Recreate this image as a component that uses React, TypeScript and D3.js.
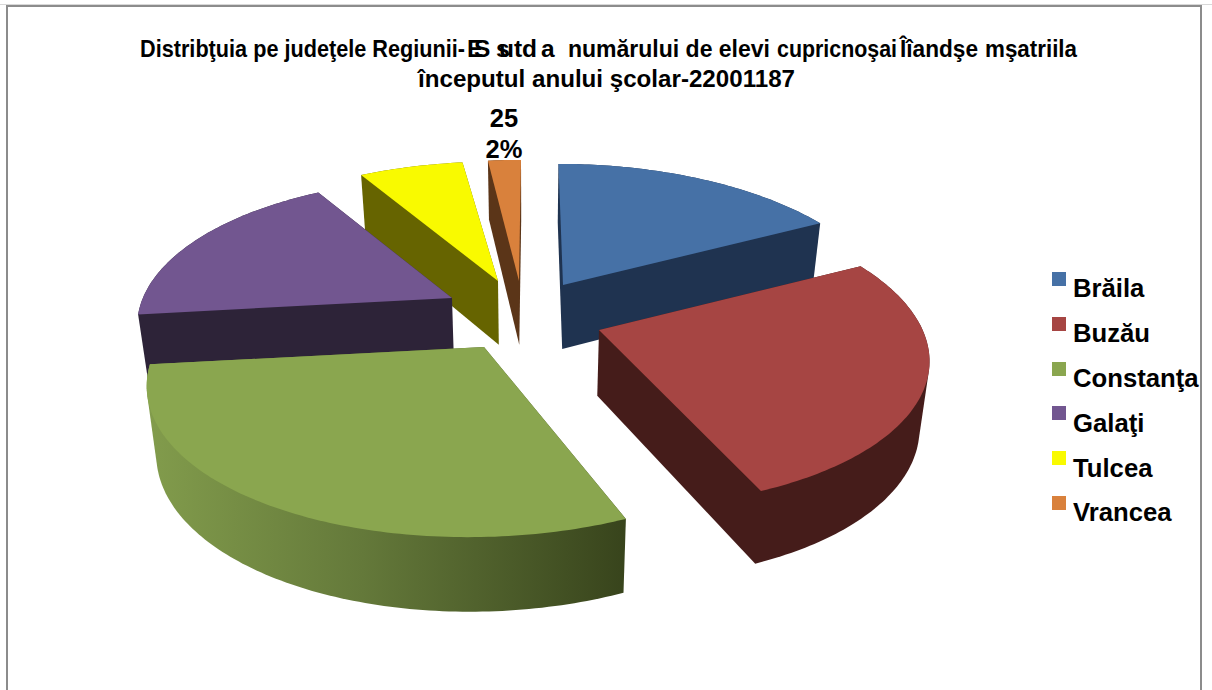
import React from "react";
import * as d3 from "d3";

const categories = ["Brăila", "Buzău", "Constanţa", "Galaţi", "Tulcea", "Vrancea"];
const shares = [17.4, 26.3, 29.5, 18.4, 6.4, 2.0];
const topColors = ["#4671a6", "#a64543", "#8aa64f", "#725690", "#f9fa00", "#d9813c"];
const wallColors = ["#1f3350", "#451c1a", "url(#greenWall)", "#2d2338", "#666400", "#5b3518"];
const apexX = [563, 599, 484, 452, 498, 519];
const apexY = [285, 330, 347, 298, 281, 281];
const sliceK = [0.222, 0.16, 0.21, 0.19, 0.24, 0.222];
const sliceRadius = [1, 1.005, 1.015, 0.96, 1, 1];
const sliceLean = [25, 90, -60, 0, 15, -11];
const drawOrder = [4, 5, 0, 3, 1, 2];
const legendBaselines = [297, 342, 387, 432, 477, 521];
const legendSwatchTops = [272, 317, 362, 406, 451, 496];
const titleSegments: [string, string, number | null][] = [
  ["Distribţuia pe judeţele Regiunii-", "140", 325],
  ["ESsutda", "467 474 496 499 514 522 541", null],
  ["numărului de elevi", "568", 202],
  ["cupricnoşai", "777", 120],
  ["Îîandşe", "900", 78],
  ["mşatriila", "985", 92],
];
const titleLine2 = "începutul anului şcolar-22001187";
const dataLabel = ["25", "2%"];

const W = 1212;
const H = 690;
const RX = 322;
const RY = 148;
const VANISH_X = 530;

const pieGen = d3.pie<number>().sort(null).value((d) => d);
const arcs = pieGen(shares);

type P = [number, number];

// Perspective projection of a point on the top face.
function top(i: number, a: number): P {
  const u = Math.sin(a);
  const v = -Math.cos(a);
  const s = 1 / (1 - sliceK[i] * v);
  return [
    apexX[i] + RX * sliceRadius[i] * u * s + sliceLean[i] * (s - 1),
    apexY[i] + RY * sliceRadius[i] * v * s,
  ];
}
// The same point dropped to the bottom face.
function drop(p: P): P {
  return [VANISH_X + (p[0] - VANISH_X) * 0.975, p[1] + 52 + 0.042 * p[1]];
}

const line = d3.line<P>().x((d) => d[0]).y((d) => d[1]);
const close = (pts: P[]) => (line(pts) || "") + "Z";

function arcPoints(i: number): P[] {
  const { startAngle, endAngle } = arcs[i];
  const n = Math.max(4, Math.ceil((endAngle - startAngle) * 60));
  return d3.range(n + 1).map((j) => top(i, startAngle + ((endAngle - startAngle) * j) / n));
}

export default function App() {
  return (
    <svg
      width={W}
      height={H}
      viewBox={`0 0 ${W} ${H}`}
      style={{ position: "absolute", left: 0, top: 0, display: "block", background: "#fff" }}
      fontFamily="'Liberation Sans', Arial, sans-serif"
      fontWeight="bold"
    >
      <defs>
        <linearGradient id="greenWall" gradientUnits="userSpaceOnUse" x1={147} y1={0} x2={625} y2={0}>
          <stop offset="0" stopColor="#829c4c" />
          <stop offset="0.45" stopColor="#64793a" />
          <stop offset="1" stopColor="#38441c" />
        </linearGradient>
      </defs>

      <rect x={0} y={4} width={W} height={1} fill="#d8d8d8" />
      <path d={`M7 ${H + 2}V6H1201V${H + 2}`} fill="none" stroke="#8c8c8c" strokeWidth={2} />

      <text y={57} fontSize={24.5} fill="#000">
        {titleSegments.map(([t, x, len]) => (
          <tspan
            key={t}
            x={x}
            y={57}
            {...(len ? { textLength: len, lengthAdjust: "spacingAndGlyphs" } : {})}
          >
            {t}
          </tspan>
        ))}
      </text>
      <text x={418} y={87} fontSize={24} textLength={377} lengthAdjust="spacingAndGlyphs" fill="#000">
        {titleLine2}
      </text>

      {drawOrder.map((i) => {
        const pts = arcPoints(i);
        const apex: P = [apexX[i], apexY[i]];
        // A slice narrower than a half-turn extrudes to a convex body, so its hull is its silhouette.
        const hull = d3.polygonHull([apex, ...pts, drop(apex), ...pts.map(drop)]) as P[];
        return (
          <g key={categories[i]}>
            <path d={close(hull)} fill={wallColors[i]} />
            <path d={close([apex, ...pts])} fill={topColors[i]} />
          </g>
        );
      })}

      {dataLabel.map((t, i) => (
        <text key={t} x={504} y={i === 0 ? 127 : 158} fontSize={25.5} textAnchor="middle" fill="#000">
          {t}
        </text>
      ))}

      {categories.map((c, i) => (
        <g key={c}>
          <rect x={1052} y={legendSwatchTops[i]} width={14} height={14} fill={topColors[i]} />
          <text x={1073} y={legendBaselines[i]} fontSize={25.7} fill="#000">
            {c}
          </text>
        </g>
      ))}
    </svg>
  );
}
